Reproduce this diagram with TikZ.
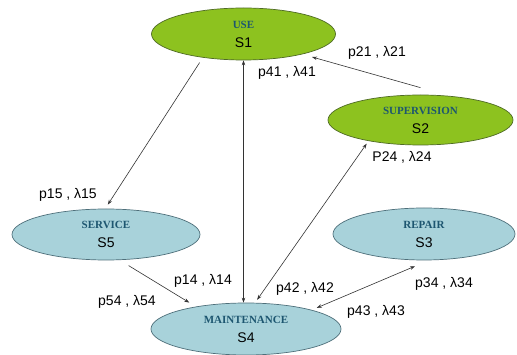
\documentclass[tikz,border=0pt]{standalone}
\usepackage{fontspec}
\setmainfont{Liberation Sans}
\newfontfamily\ttlfont{Liberation Serif}
\usetikzlibrary{shapes.geometric,arrows.meta,calc}
\definecolor{grn}{HTML}{8DC21F}
\definecolor{grnline}{HTML}{4F6B25}
\definecolor{blu}{HTML}{A8D2DA}
\definecolor{bluline}{HTML}{4E6F7A}
\definecolor{ttlcol}{HTML}{1D5670}
\definecolor{edgecol}{HTML}{333333}
\newcommand\ttl[1]{{\ttlfont\bfseries\fontsize{11}{19}\selectfont\color{ttlcol}#1}}
\begin{document}
\begin{tikzpicture}[x=1pt,y=-1pt,
  state/.style={ellipse, inner sep=0pt, align=center, font=\fontsize{14}{19}\selectfont, line width=0.7pt},
  gstate/.style={state, fill=grn, draw=grnline},
  bstate/.style={state, fill=blu, draw=bluline},
  conn/.style={draw=edgecol, line width=0.6pt, -{Stealth[length=5pt,width=3.5pt]}},
  both/.style={conn, {Stealth[length=5pt,width=3.5pt]}-{Stealth[length=5pt,width=3.5pt]}},
  lbl/.style={font=\fontsize{14}{16}\selectfont, inner sep=0pt}]
\useasboundingbox[fill=white] (0,0) rectangle (517,355);
\node[gstate, minimum width=184pt, minimum height=52pt] (S1) at (243.5,34) {\ttl{USE}\\S1};
\node[gstate, minimum width=185pt, minimum height=50pt] (S2) at (420.5,120) {\ttl{SUPERVISION}\\S2};
\node[bstate, minimum width=188pt, minimum height=51pt] (S5) at (106,234.5) {\ttl{SERVICE}\\S5};
\node[bstate, minimum width=182pt, minimum height=52pt] (S3) at (424,234) {\ttl{REPAIR}\\S3};
\node[bstate, minimum width=190pt, minimum height=52pt] (S4) at (246,329) {\ttl{MAINTENANCE}\\S4};
\draw[conn] ($(S1.210)+(-3,5)$) -- ($(S5.86)+(0,-4)$);
\draw[both] (S1.south) -- (S1.south |- S4.north);
\draw[conn, shorten >=10pt] ($(S2.north)+(0,-7)$) -- (S1.341);
\draw[both] ($(S4.67)+(0,-3)$) -- ($(S2.201)+(0,3)$);
\draw[conn] ($(S5.312)+(0,6)$) -- ($(S4.159)+(-1,-5)$);
\draw[both] ($(S4.14)+(0,-3.5)$) -- ($(S3.251)+(0,6)$);
\node[lbl] (l21) at (377,53) {p21 , λ21};
\node[lbl] (l41) at (287,73) {p41 , λ41};
\node[lbl] (l24) at (402,157) {P24 , λ24};
\node[lbl] (l15) at (68,195) {p15 , λ15};
\node[lbl] (l14) at (203,281) {p14 , λ14};
\node[lbl] (l54) at (127,302) {p54 , λ54};
\node[lbl] (l42) at (305,289) {p42 , λ42};
\node[lbl] (l34) at (444,284) {p34 , λ34};
\node[lbl] (l43) at (376,312) {p43 , λ43};
\end{tikzpicture}
\end{document}
